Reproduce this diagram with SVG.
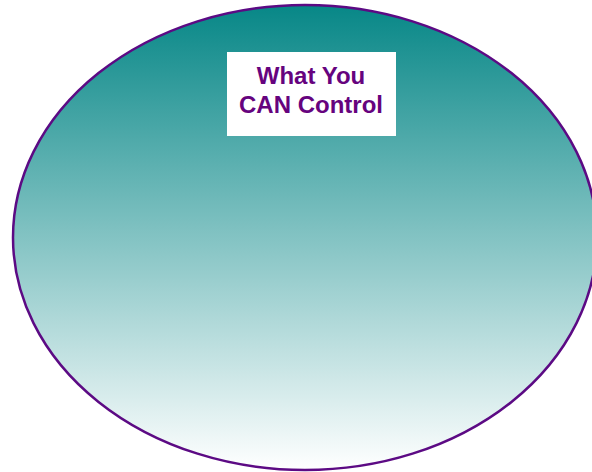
<svg xmlns="http://www.w3.org/2000/svg" width="592" height="472" viewBox="0 0 592 472">
  <defs>
    <linearGradient id="tealFade" x1="0" y1="0" x2="0" y2="1">
      <stop offset="0" stop-color="#078787"/>
      <stop offset="1" stop-color="#ffffff"/>
    </linearGradient>
  </defs>
  <style>
    .oval { fill: url(#tealFade); stroke: #5c0a84; stroke-width: 2.5; }
    .box { fill: #ffffff; }
    .label { font-family: "Liberation Sans", Arial, sans-serif; font-weight: bold; font-size: 24px; fill: #66037e; text-anchor: middle; }
  </style>
  <rect width="592" height="472" fill="#ffffff"/>
  <g id="control-circle">
    <ellipse class="oval" cx="305" cy="237.5" rx="292" ry="232.5"/>
  </g>
  <g id="control-label">
    <rect class="box" x="227" y="52" width="169" height="84"/>
    <text class="label" x="311" y="84">What You</text>
    <text class="label" x="311" y="113">CAN Control</text>
  </g>
  <g id="connectors"/>
</svg>
